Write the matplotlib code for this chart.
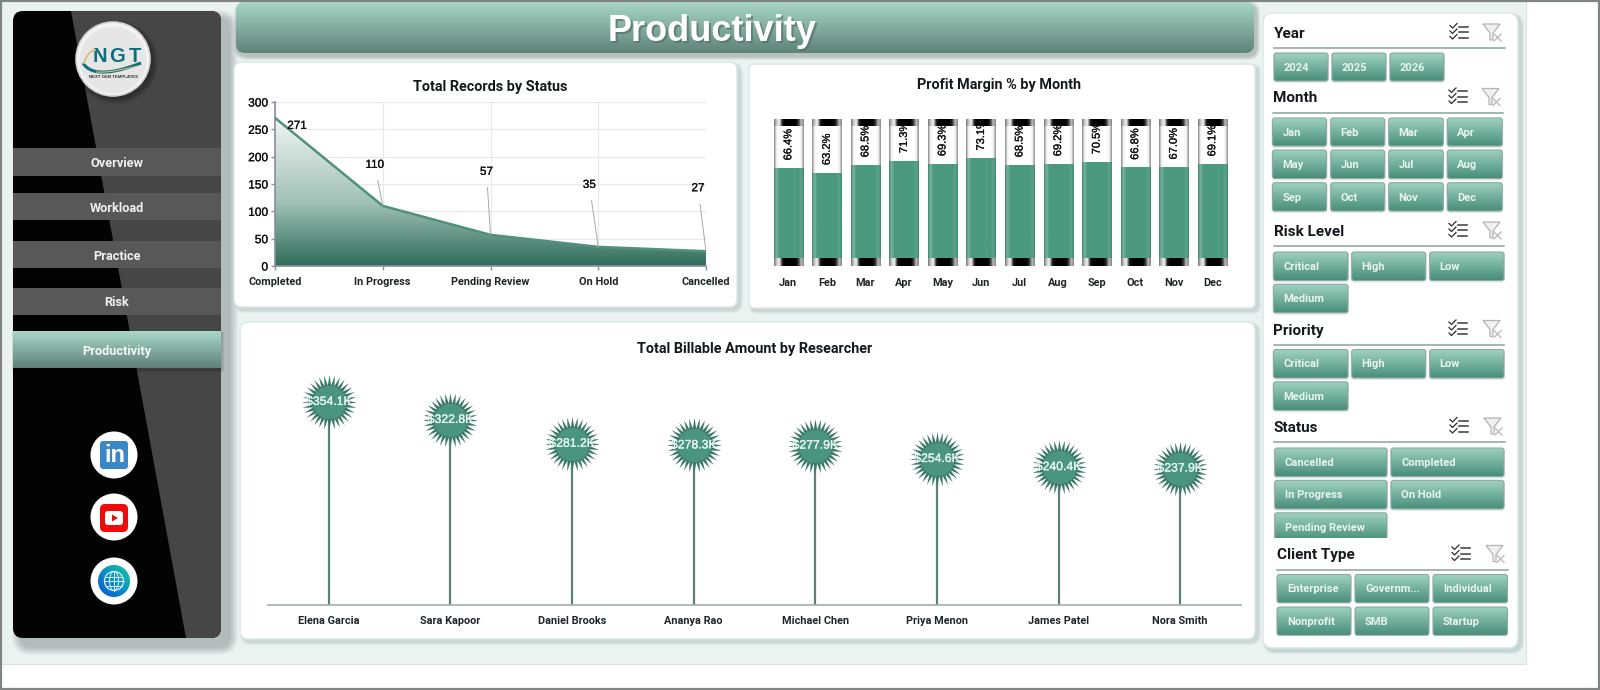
import matplotlib
matplotlib.use('Agg')
import matplotlib.pyplot as plt
import matplotlib.patheffects as pe
import numpy as np
from matplotlib.colors import LinearSegmentedColormap
from matplotlib.patches import Circle, Ellipse, FancyBboxPatch, PathPatch, Polygon, Rectangle
from matplotlib.path import Path

W, H = 1600, 690
UI_FONT = ['Roboto', 'DejaVu Sans']
NUM_FONT = ['Liberation Sans', 'DejaVu Sans']
HEAVY = [pe.withStroke(linewidth=0.2, foreground='#111111')]

# chart data
status_names = ['Completed', 'In Progress', 'Pending Review', 'On Hold', 'Cancelled']
status_counts = [271, 110, 57, 35, 27]
months = ['Jan', 'Feb', 'Mar', 'Apr', 'May', 'Jun', 'Jul', 'Aug', 'Sep', 'Oct', 'Nov', 'Dec']
margins = [66.4, 63.2, 68.5, 71.3, 69.3, 73.1, 68.5, 69.2, 70.5, 66.8, 67.0, 69.1]
researchers = ['Elena Garcia', 'Sara Kapoor', 'Daniel Brooks', 'Ananya Rao',
               'Michael Chen', 'Priya Menon', 'James Patel', 'Nora Smith']
billable = [354.1, 322.8, 281.2, 278.3, 277.9, 254.6, 240.4, 237.9]

# slicer items
nav_items = ['Overview', 'Workload', 'Practice', 'Risk']
years = ['2024', '2025', '2026']
levels = ['Critical', 'High', 'Low', 'Medium']
statuses = ['Cancelled', 'Completed', 'In Progress', 'On Hold', 'Pending Review']
client_types = ['Enterprise', 'Governm...', 'Individual', 'Nonprofit', 'SMB', 'Startup']

fig = plt.figure(figsize=(16, 6.9), dpi=100, facecolor='white')
bg = fig.add_axes([0, 0, 1, 1])
bg.set_xlim(0, W)
bg.set_ylim(H, 0)
bg.axis('off')


def px_axes(x0, y0, x1, y1):
    ax = fig.add_axes([x0 / W, 1 - y1 / H, (x1 - x0) / W, (y1 - y0) / H])
    ax.patch.set_alpha(0)
    return ax


def round_box(x0, y0, x1, y1, r, **kw):
    return FancyBboxPatch((x0 + r, y0 + r), x1 - x0 - 2 * r, y1 - y0 - 2 * r,
                          boxstyle=f'round,pad={r},rounding_size={r}', **kw)


def grad_box(x0, y0, x1, y1, r, c_top, c_bot, z=3, edge=None):
    cmap = LinearSegmentedColormap.from_list('g', [c_top, c_bot])
    clip = round_box(x0, y0, x1, y1, r, fc='none', ec=edge or 'none', lw=0.8, zorder=z + 0.1)
    bg.add_patch(clip)
    im = bg.imshow(np.linspace(0, 1, 64)[:, None], extent=(x0, x1, y1, y0), cmap=cmap,
                   aspect='auto', zorder=z, interpolation='bilinear')
    im.set_clip_path(clip)
    bg.set_xlim(0, W)
    bg.set_ylim(H, 0)


def shadow(x0, y0, x1, y1, r, dx=3, dy=3, spread=8, color='#50706a', alpha=0.035, z=1):
    for s in range(spread, 0, -1):
        bg.add_patch(round_box(x0 + dx - s, y0 + dy - s, x1 + dx + s, y1 + dy + s, r + s,
                               fc=color, ec='none', alpha=alpha, zorder=z))


def card(x0, y0, x1, y1, r=8):
    shadow(x0, y0, x1, y1, r, dx=3, dy=3, spread=3, alpha=0.07)
    bg.add_patch(round_box(x0, y0, x1, y1, r, fc='white', ec='#d9e8e4', lw=1, zorder=2))


# page background and outer frame
bg.add_patch(Rectangle((0, 0), 1525.5, 663.5, fc='#ebf3f1', ec='#d5e2df', lw=0.8, zorder=0))
bg.add_patch(Rectangle((0.5, 0.5), W - 1.5, H - 1.5, fc='none', ec='#7f8583', lw=1.6, zorder=20))

# sidebar
shadow(13, 11, 221, 638, 10, dx=8, dy=8, spread=9, color='#3a4a46', alpha=0.04)
side = round_box(13, 11, 221, 638, 10, fc='#030304', ec='none', zorder=2)
bg.add_patch(side)
wedge = Polygon([(71, 11), (221, 11), (221, 638), (186, 638)], fc='#464646', ec='none', zorder=2.1)
bg.add_patch(wedge)
wedge.set_clip_path(side)

nav_rows = [(148, 176), (193, 220), (241, 268), (288, 315)]
for name, (y0, y1) in zip(nav_items, nav_rows):
    bg.add_patch(Rectangle((13, y0), 208, y1 - y0, fc='#585858', ec='none', zorder=3))
    bg.text(117, (y0 + y1) / 2 + 1.5, name, color='#f0f0f0', fontsize=9.2, fontweight='bold',
            family=UI_FONT, ha='center', va='center', zorder=4)
shadow(13, 331, 221, 368, 1, dx=1, dy=2, spread=2, color='#000000', alpha=0.08, z=2.5)
grad_box(13, 331, 221, 368, 0.5, '#a8d8c8', '#5f8077', z=3)
bg.text(117, 351.5, 'Productivity', color='#f2f6f4', fontsize=9.2, fontweight='bold',
        family=UI_FONT, ha='center', va='center', zorder=4)

# logo badge
for s in range(6, 0, -1):
    bg.add_patch(Circle((116, 62), 36 + s, fc='black', ec='none', alpha=0.06, zorder=3))
bg.add_patch(Circle((113, 59), 37, fc='#f4f4f4', ec='#d0d0d0', lw=1.2, zorder=3.1))
bg.add_patch(Circle((113, 60), 33.5, fc='#e6e6e6', ec='none', zorder=3.2))
for letter, lx in zip('NGT', (100, 117.5, 134.5)):
    bg.text(lx, 56.5, letter, color='#0e6f7c', fontsize=14.5, fontweight='bold', family=NUM_FONT,
            ha='center', va='center', zorder=4)
swoosh = Path([(83, 63), (92, 78), (118, 72), (141, 63)],
              [Path.MOVETO, Path.CURVE4, Path.CURVE4, Path.CURVE4])
bg.add_patch(PathPatch(swoosh, fc='none', ec='#0e6f7c', lw=2.2, zorder=4.1))
swoosh2 = Path([(84, 64), (86, 54), (92, 50), (96, 50)],
               [Path.MOVETO, Path.CURVE4, Path.CURVE4, Path.CURVE4])
bg.add_patch(PathPatch(swoosh2, fc='none', ec='#d9bf78', lw=1.3, zorder=4.1))
under = Path([(96, 72), (110, 73), (124, 69), (138, 66)],
             [Path.MOVETO, Path.CURVE4, Path.CURVE4, Path.CURVE4])
bg.add_patch(PathPatch(under, fc='none', ec='#d9bf78', lw=0.8, zorder=4.1))
bg.text(113.5, 76.5, 'NEXT GEN TEMPLATES', color='#333333', fontsize=3.2, fontweight='bold',
        family=NUM_FONT, ha='center', va='center', zorder=4)

# social badges
for cy in (455, 517, 581):
    bg.add_patch(Circle((114, cy), 23.5, fc='white', ec='none', zorder=3))
bg.add_patch(round_box(100, 441, 128, 469, 3, fc='#3a87c8', ec='none', zorder=4))
bg.text(114.5, 456, 'in', color='white', fontsize=17, fontweight='bold', family=NUM_FONT,
        ha='center', va='center', zorder=5)
bg.add_patch(round_box(100, 504, 128, 532, 5, fc='#f00a0a', ec='none', zorder=4))
bg.add_patch(round_box(105, 511, 123, 525, 3, fc='white', ec='none', zorder=5))
bg.add_patch(Polygon([(112, 514.5), (112, 521.5), (118, 518)], fc='#e01010', ec='none', zorder=6))
globe_clip = Circle((114, 581), 16, fc='none', ec='none', zorder=4)
bg.add_patch(globe_clip)
globe_cmap = LinearSegmentedColormap.from_list('gl', ['#18c8a0', '#0a90c8', '#0a50d8'])
xx, yy = np.meshgrid(np.linspace(0, 1, 40), np.linspace(0, 1, 40))
im = bg.imshow((1 - xx + yy) / 2, extent=(98, 130, 597, 565), cmap=globe_cmap, aspect='auto', zorder=4)
im.set_clip_path(globe_clip)
bg.set_xlim(0, W)
bg.set_ylim(H, 0)
bg.add_patch(Circle((114, 581), 9.5, fc='none', ec='#d8f2f6', lw=0.9, zorder=5))
bg.add_patch(Ellipse((114, 581), 9, 19, fc='none', ec='#d8f2f6', lw=0.7, zorder=5))
for dy in (-4.5, 0, 4.5):
    half = np.sqrt(9.5 ** 2 - dy ** 2)
    bg.plot([114 - half, 114 + half], [581 + dy] * 2, color='#d8f2f6', lw=0.7, zorder=5)
bg.plot([114, 114], [571.5, 590.5], color='#d8f2f6', lw=0.7, zorder=5)

# header banner
shadow(236, 2, 1254, 53, 9, dx=2, dy=3, spread=4, color='#2a3a36', alpha=0.07)
grad_box(236, 2, 1254, 53, 9, '#a6d6c6', '#5f8378', z=3)
bg.text(714.5, 33.5, 'Productivity', color='#55706a', fontsize=26, fontweight='bold',
        family=NUM_FONT, ha='center', va='center', zorder=4, alpha=0.7)
bg.text(712.5, 31.5, 'Productivity', color='white', fontsize=26, fontweight='bold',
        family=NUM_FONT, ha='center', va='center', zorder=5)

# chart cards
card(234, 62, 737, 307)
card(749, 64, 1255, 308, r=5)
card(240, 322, 1255, 639)
title_style = dict(color='#15181c', fontsize=10.4, fontweight='bold', family=UI_FONT,
                   ha='center', va='center', zorder=6)
bg.text(490, 86.5, 'Total Records by Status', **title_style)
bg.text(999, 85.5, 'Profit Margin % by Month', **title_style)
bg.text(755, 349, 'Total Billable Amount by Researcher', **title_style)

# area chart with leader-lined labels
ax1 = px_axes(275, 102, 706, 266)
ax1.set_zorder(3)
xs = np.arange(len(status_counts))
area_cmap = LinearSegmentedColormap.from_list('a', [(0, '#f1f5f4'), (0.58, '#9fc0b5'), (1, '#2f6d5a')])
poly = ax1.fill_between(xs, status_counts, 0, color='none')
grad = ax1.imshow(np.linspace(0, 1, 128)[:, None], extent=(0, 4, 0, max(status_counts)),
                  cmap=area_cmap, aspect='auto', zorder=2)
grad.set_clip_path(poly.get_paths()[0], ax1.transData)
ax1.plot(xs, status_counts, color='#4f917b', lw=1.8, zorder=4, solid_capstyle='round')
ax1.set_xlim(0, 4)
ax1.set_ylim(0, 300)
ax1.set_yticks(range(0, 301, 50))
ax1.set_xticks(xs)
ax1.grid(True, color='#e8e9eb', lw=0.9, zorder=0)
ax1.set_axisbelow(True)
ax1.set_xticklabels(status_names, family=UI_FONT, fontsize=7.8, fontweight='bold', color='#202428')
ax1.tick_params(axis='x', length=3, color='#8a8fa0', width=1, pad=5)
ax1.tick_params(axis='y', length=3, color='#8a8fa0', width=1, pad=2, labelsize=8.6, labelcolor='#111111')
for lab in ax1.get_yticklabels():
    lab.set_family(NUM_FONT)
    lab.set_path_effects(HEAVY)
for sp in ('top', 'right'):
    ax1.spines[sp].set_visible(False)
for sp in ('left', 'bottom'):
    ax1.spines[sp].set_color('#8a8fa0')
    ax1.spines[sp].set_linewidth(1.2)
label_offsets = [(22, -8), (-8, 41), (-4, 63), (-9, 62), (-8, 63)]
for x, v, off in zip(xs, status_counts, label_offsets):
    ax1.annotate(str(v), (x, v), xytext=off, textcoords='offset pixels', ha='center', va='center',
                 fontsize=8.4, family=NUM_FONT, color='#111111', zorder=6,
                 annotation_clip=False, path_effects=HEAVY,
                 arrowprops=None if v == 271 else dict(arrowstyle='-', color='#a8a8a8', lw=0.7,
                                                       shrinkA=5, shrinkB=0))

# cylinder-style column chart
ax2 = px_axes(769, 119, 1231.5, 266)
ax2.set_zorder(3)
mx = np.arange(len(months))
ax2.axis('off')
shell_cmap = LinearSegmentedColormap.from_list('s', ['#8a8a8a'] + ['#f4f4f4'] + ['#ffffff'] * 10 +
                                               ['#f0f0f0', '#909090'])
cap_cmap = LinearSegmentedColormap.from_list('c', ['#777777', '#cfcfcf', '#f0f0f0', '#222222', '#000000',
                                                   '#000000', '#000000', '#000000', '#000000', '#333333',
                                                   '#bbbbbb', '#888888'])
fill_cmap = LinearSegmentedColormap.from_list('f', ['#3f8a72', '#7eb3a2'] + ['#4b9a80'] * 9 +
                                              ['#5ea38d', '#3f8a72'])
ramp = np.linspace(0, 1, 96)[None, :]
shell_bars = ax2.bar(mx, [100] * len(months), width=0.753, color='white')
fill_bars = ax2.bar(mx, margins, width=0.753, color='#4b9a80')
for shell, v in zip(shell_bars, margins):
    left, width = shell.get_x(), shell.get_width()
    ax2.imshow(ramp, extent=(left, left + width, 0, 100), cmap=shell_cmap, aspect='auto', zorder=1.5)
    ax2.imshow(ramp, extent=(left, left + width, 0, v), cmap=fill_cmap, aspect='auto', zorder=2)
    ax2.imshow(ramp, extent=(left, left + width, 0, 5), cmap=cap_cmap, aspect='auto', zorder=3)
    ax2.imshow(ramp, extent=(left, left + width, 95, 100), cmap=cap_cmap, aspect='auto', zorder=3)
    ax2.annotate(f'{v:.1f}%', (left + width / 2, v), xytext=(0, 8), textcoords='offset pixels',
                 rotation=90, ha='center', va='bottom', fontsize=8, family=NUM_FONT,
                 color='#111111', zorder=5, path_effects=HEAVY)
ax2.set_xlim(-0.5, 11.5)
ax2.set_ylim(0, 100)
for x, m in zip(mx, months):
    ax2.annotate(m, (x, 0), xytext=(0, -17), textcoords='offset pixels', ha='center', va='center',
                 fontsize=7.8, fontweight='bold', family=UI_FONT, color='#202428', annotation_clip=False)

# lollipop chart with starburst heads
ax3 = px_axes(268, 360, 1241, 605)
ax3.set_zorder(3)
rx = np.arange(len(researchers))
ax3.set_xlim(-0.5, 7.5)
ax3.set_ylim(0, 245 / 0.5735)
ax3.vlines(rx, 0, billable, color='#5c8278', lw=1.6, zorder=2)
star_out = Path.unit_regular_star(32, innerCircle=0.62)
ax3.plot(rx, billable, ls='none', marker=star_out, ms=39.5, mfc='#3c7868', mec='none', zorder=3,
         clip_on=False)
ax3.plot(rx, billable, ls='none', marker='o', ms=24, mfc='#4a957d', mec='none', zorder=3.5, clip_on=False)
for x, v in zip(rx, billable):
    ax3.text(x, v, f'${v:.1f}K', color='#e8f6f0', fontsize=8.8, family=NUM_FONT,
             ha='center', va='center', zorder=5, clip_on=False,
             path_effects=[pe.withStroke(linewidth=0.2, foreground='#e8f6f0')])
ax3.set_xticks(rx)
ax3.set_xticklabels(researchers, family=UI_FONT, fontsize=7.8, fontweight='bold', color='#202428')
ax3.set_yticks([])
ax3.tick_params(axis='x', length=0, pad=8)
for sp in ('top', 'right', 'left'):
    ax3.spines[sp].set_visible(False)
ax3.spines['bottom'].set_color('#a0b2ae')
ax3.spines['bottom'].set_linewidth(1.2)

# slicer panel
shadow(1263, 13, 1518, 648, 10, dx=3, dy=3, spread=3, alpha=0.08)
bg.add_patch(round_box(1263, 13, 1518, 648, 10, fc='white', ec='#dbe8e5', lw=1, zorder=2))


def slicer_header(title, x0, x1, y_mid, y_line, ic1, ic2):
    bg.text(x0, y_mid + 1, title, color='#15181c', fontsize=11, fontweight='bold', family=UI_FONT,
            ha='left', va='center', zorder=5)
    bg.plot([x0, x1], [y_line, y_line], color='#8ba39d', lw=1.1, zorder=5)
    # multi-select glyph
    for dy in (-5.5, 0, 5.5):
        y = y_mid - 1 + dy
        bg.plot([ic1 - 9, ic1 - 6.5, ic1 - 2], [y - 1, y + 1.5, y - 3], color='#2c2c2c', lw=0.9, zorder=5)
        bg.plot([ic1, ic1 + 9], [y, y], color='#3a3a3a', lw=1.1, zorder=5)
    # clear-filter glyph
    y = y_mid - 1
    bg.add_patch(Polygon([(ic2 - 9, y - 8), (ic2 + 8, y - 8), (ic2 + 1, y + 1), (ic2 + 1, y + 8),
                          (ic2 - 2, y + 8), (ic2 - 2, y + 1)], fc='#f0f0f0', ec='#b4b4b4', lw=0.9, zorder=5))
    bg.plot([ic2 + 2, ic2 + 9], [y + 2, y + 9], color='#bcbcbc', lw=1, zorder=6)
    bg.plot([ic2 + 9, ic2 + 2], [y + 2, y + 9], color='#bcbcbc', lw=1, zorder=6)


def slicer_button(text, x0, x1, y0, y1, z=3):
    shadow(x0, y0, x1, y1, 2, dx=0, dy=1, spread=1, color='#4a6a62', alpha=0.15, z=z - 0.5)
    grad_box(x0, y0, x1, y1, 2.5, '#a0d3c1', '#478e78', z=z, edge='#8fa8a2')
    bg.text(x0 + 10, (y0 + y1) / 2 + 0.7, text, color='#e9f4ef', fontsize=8, fontweight='bold',
            family=UI_FONT, ha='left', va='center', zorder=z + 0.5)


slicer_header('Year', 1274, 1505, 33, 48, 1459, 1492)
for t, x0 in zip(years, (1274, 1332, 1390)):
    slicer_button(t, x0, x0 + 54, 53, 81)

slicer_header('Month', 1273, 1503, 97.5, 112.5, 1458, 1491)
month_cols = [(1272.5, 1326.5), (1330.7, 1384.7), (1388.7, 1443.3), (1447.3, 1502.3)]
month_rows = [(118, 146), (150, 178.5), (182.7, 211)]
for i, m in enumerate(months):
    cx0, cx1 = month_cols[i % 4]
    cy0, cy1 = month_rows[i // 4]
    slicer_button(m, cx0, cx1, cy0, cy1)

wide_cols = [(1273.5, 1348), (1351.7, 1425.7), (1429.7, 1504)]
slicer_header('Risk Level', 1273.5, 1504, 231, 246, 1458, 1492)
slicer_header('Priority', 1273.5, 1504, 329.5, 344.5, 1458, 1492)
for base in (252, 349.5):
    for i, lev in enumerate(levels):
        cx0, cx1 = wide_cols[i % 3]
        cy0 = base + (i // 3) * 32.3
        slicer_button(lev, cx0, cx1, cy0, cy0 + 28.5)

slicer_header('Status', 1274, 1505, 427, 442, 1459, 1493)
status_cols = [(1274.7, 1387), (1391, 1504)]
for i, s in enumerate(statuses):
    cx0, cx1 = status_cols[i % 2]
    cy0 = 448 + (i // 2) * 32.4
    # the last row runs under the next slicer block
    slicer_button(s, cx0, cx1, cy0, cy0 + 28.5, z=2.2 if i == 4 else 3)
bg.add_patch(Rectangle((1264, 538), 253, 100, fc='white', ec='none', zorder=2.8))

slicer_header('Client Type', 1277, 1507.5, 554.5, 569.5, 1461, 1495)
client_cols = [(1277, 1351), (1355, 1429), (1433, 1507.5)]
for i, c in enumerate(client_types):
    cx0, cx1 = client_cols[i % 3]
    cy0 = 574.5 + (i // 3) * 32.5
    slicer_button(c, cx0, cx1, cy0, cy0 + 28.3)

fig.savefig('out.png', dpi=100)
